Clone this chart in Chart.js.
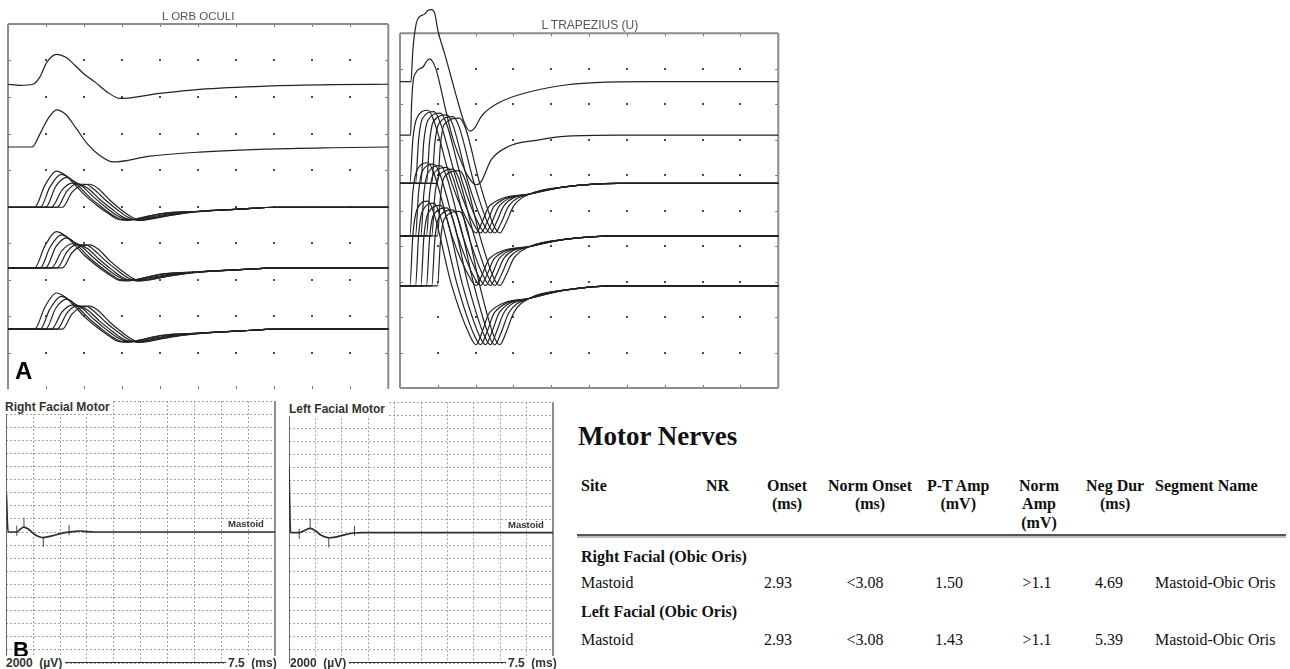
<!DOCTYPE html>
<html>
<head>
<meta charset="utf-8">
<script src="https://cdn.jsdelivr.net/npm/chart.js@4.4.1/dist/chart.umd.min.js"></script>
<style>
  body { margin: 0; background: #fff; width: 1290px; height: 669px; overflow: hidden; position: relative; font-family: "Liberation Sans", Arial, sans-serif; }
  canvas { position: absolute; }
  .txt { position: absolute; white-space: pre; color: #222; }
  .serif { font-family: "Liberation Serif", "Times New Roman", serif; color: #111; }
</style>
</head>
<body>
<canvas id="orbChart" width="394" height="392" style="left:0;top:0"></canvas>
<canvas id="trapChart" width="398" height="392" style="left:392px;top:0"></canvas>
<canvas id="rightFacialChart" width="282" height="274" style="left:0;top:395px"></canvas>
<canvas id="leftFacialChart" width="282" height="274" style="left:282px;top:395px"></canvas>
<div id="tableRule" style="position:absolute;left:577px;top:534px;width:709px;height:0;border-top:2px solid #555;border-bottom:2px solid #bbb"></div>

<script>
// ---------- A, left: L ORB OCULI  (x and y in screen divisions, amplitudes relative to each trace baseline)
const orbBaselines = [8.35, 6.63, 4.98, 3.32, 1.64];

const orbTrace1Time = [0, 0.31, 0.66, 0.84, 1.02, 1.28, 1.52, 1.76, 2.00, 2.30, 2.62, 2.94, 3.99, 5.04, 6.79, 8.53, 10];
const orbTrace1Amp  = [0, -0.03, 0, 0.20, 0.60, 0.82, 0.74, 0.52, 0.28, 0.05, -0.22, -0.39, -0.25, -0.14, -0.05, -0.01, 0];

const orbTrace2Time = [0, 0.63, 0.84, 1.05, 1.28, 1.52, 1.78, 2.10, 2.41, 2.76, 3.73, 5.04, 6.77, 8.53, 10];
const orbTrace2Amp  = [0, 0, 0.36, 0.77, 1.02, 0.89, 0.53, 0.07, -0.23, -0.41, -0.25, -0.14, -0.06, -0.02, 0];

// six superimposed responses, repeated on rows 3-5
const orbFamilyTimes = [
  [0, 0.70, 0.97, 1.27, 1.50, 1.75, 2.02, 2.34, 2.62, 2.89, 3.15, 3.46, 3.99, 5.04, 6.09, 7.06, 10],
  [0, 0.85, 1.10, 1.40, 1.63, 1.84, 2.15, 2.47, 2.76, 3.02, 3.28, 3.60, 4.12, 5.04, 6.09, 7.06, 10],
  [0, 0.99, 1.26, 1.55, 1.73, 1.94, 2.26, 2.57, 2.86, 3.12, 3.39, 3.73, 4.25, 5.04, 6.09, 7.06, 10],
  [0, 1.14, 1.42, 1.68, 1.89, 2.10, 2.41, 2.73, 2.99, 3.25, 3.52, 3.86, 4.38, 5.04, 6.09, 7.06, 10],
  [0, 1.29, 1.55, 1.78, 2.05, 2.26, 2.57, 2.89, 3.15, 3.41, 3.67, 3.99, 4.51, 5.04, 6.09, 7.06, 10],
  [0, 1.43, 1.68, 1.89, 2.15, 2.36, 2.68, 2.99, 3.25, 3.46, 3.73, 4.12, 4.65, 5.30, 6.09, 7.06, 10]
];
const orbFamilyAmps = [
  [0, 0, 0.60, 0.99, 0.88, 0.63, 0.33, 0.05, -0.16, -0.33, -0.36, -0.30, -0.18, -0.11, -0.05, 0, 0],
  [0, 0, 0.55, 0.90, 0.79, 0.60, 0.27, 0, -0.22, -0.34, -0.34, -0.27, -0.16, -0.11, -0.05, 0, 0],
  [0, 0, 0.58, 0.82, 0.71, 0.58, 0.27, 0, -0.22, -0.33, -0.33, -0.27, -0.18, -0.11, -0.05, 0, 0],
  [0, 0, 0.47, 0.66, 0.63, 0.52, 0.22, -0.05, -0.25, -0.34, -0.33, -0.27, -0.18, -0.11, -0.05, 0, 0],
  [0, 0, 0.44, 0.63, 0.63, 0.49, 0.19, -0.08, -0.27, -0.36, -0.33, -0.27, -0.18, -0.11, -0.05, 0, 0],
  [0, 0, 0.41, 0.58, 0.63, 0.52, 0.19, -0.08, -0.27, -0.36, -0.33, -0.25, -0.16, -0.10, -0.05, 0, 0]
];

// ---------- A, right: L TRAPEZIUS (U)
const trapBaselines = [8.64, 7.13, 5.77, 4.29, 2.88];

const trapTrace1Time = [0, 0.29, 0.34, 0.43, 0.52, 0.65, 0.74, 0.83, 0.92, 1.00, 1.19, 1.37, 1.53, 1.69, 1.85, 1.98, 2.15, 2.59, 3.46, 4.43, 5.15, 6.60, 10];
const trapTrace1Amp  = [0, 0, 0.89, 1.64, 1.83, 1.90, 2.01, 2.03, 1.92, 1.45, 0.75, 0.05, -0.57, -1.13, -1.40, -1.30, -0.98, -0.61, -0.28, -0.09, -0.03, 0, 0];

const trapTrace2Time = [0, 0.28, 0.30, 0.34, 0.43, 0.52, 0.61, 0.69, 0.78, 0.87, 0.96, 1.05, 1.21, 1.37, 1.58, 1.79, 2.01, 2.14, 2.41, 2.85, 3.64, 4.43, 5.80, 10];
const trapTrace2Amp  = [0, 0, 0.70, 1.45, 1.78, 1.87, 1.92, 2.06, 2.15, 2.06, 1.83, 1.45, 0.70, 0, -0.65, -1.15, -1.40, -1.32, -0.70, -0.33, -0.14, -0.03, 0, 0];

const trapFamilyTimes = [
  [0, 0.26, 0.34, 0.45, 0.74, 0.90, 1.37, 1.85, 2.01, 2.16, 2.37, 3.43, 4.35, 5.75, 10],
  [0, 0.41, 0.49, 0.59, 0.90, 1.06, 1.52, 1.97, 2.13, 2.29, 2.50, 3.43, 4.35, 5.75, 10],
  [0, 0.55, 0.63, 0.74, 1.07, 1.23, 1.66, 2.10, 2.26, 2.42, 2.63, 3.43, 4.35, 5.75, 10],
  [0, 0.70, 0.78, 0.88, 1.24, 1.40, 1.81, 2.23, 2.39, 2.54, 2.75, 3.43, 4.35, 5.75, 10],
  [0, 0.84, 0.92, 1.03, 1.40, 1.56, 1.96, 2.35, 2.51, 2.67, 2.88, 3.43, 4.35, 5.75, 10],
  [0, 0.99, 1.07, 1.17, 1.57, 1.73, 2.11, 2.48, 2.64, 2.80, 3.01, 3.43, 4.35, 5.75, 10]
];
// rows 3 and 4
const trapFamilyAmps = [
  [0, 0, 1.24, 1.85, 2.06, 1.75, 0, -1.19, -1.40, -1.12, -0.63, -0.30, -0.10, 0, 0],
  [0, 0, 1.21, 1.82, 2.02, 1.72, 0, -1.19, -1.40, -1.12, -0.63, -0.30, -0.10, 0, 0],
  [0, 0, 1.19, 1.78, 1.98, 1.68, 0, -1.19, -1.40, -1.12, -0.63, -0.30, -0.10, 0, 0],
  [0, 0, 1.16, 1.74, 1.93, 1.64, 0, -1.19, -1.40, -1.12, -0.63, -0.30, -0.10, 0, 0],
  [0, 0, 1.13, 1.69, 1.88, 1.60, 0, -1.19, -1.40, -1.12, -0.63, -0.30, -0.10, 0, 0],
  [0, 0, 1.10, 1.66, 1.84, 1.56, 0, -1.19, -1.40, -1.12, -0.63, -0.30, -0.10, 0, 0]
];
// row 5 (larger)
const trapFamily5Amps = [
  [0, 0, 1.43, 2.15, 2.39, 2.03, 0, -1.41, -1.66, -1.33, -0.75, -0.35, -0.12, 0, 0],
  [0, 0, 1.40, 2.10, 2.33, 1.98, 0, -1.41, -1.66, -1.33, -0.75, -0.35, -0.12, 0, 0],
  [0, 0, 1.36, 2.04, 2.27, 1.93, 0, -1.41, -1.66, -1.33, -0.75, -0.35, -0.12, 0, 0],
  [0, 0, 1.32, 1.98, 2.20, 1.87, 0, -1.41, -1.66, -1.33, -0.75, -0.35, -0.12, 0, 0],
  [0, 0, 1.28, 1.93, 2.14, 1.82, 0, -1.41, -1.66, -1.33, -0.75, -0.35, -0.12, 0, 0],
  [0, 0, 1.26, 1.89, 2.10, 1.79, 0, -1.41, -1.66, -1.33, -0.75, -0.35, -0.12, 0, 0]
];

// ---------- B: facial motor (ms, uV)
const rightFacialTime = [0, 0.045, 0.29, 0.38, 0.49, 0.60, 0.75, 0.88, 1.03, 1.27, 1.50, 1.68, 1.86, 2.06, 2.25, 2.47, 7.5];
const rightFacialAmp  = [5800, 0, 0, 400, 750, 500, -200, -650, -850, -600, -250, -50, 50, 150, 50, 0, 0];
const rightMarkerTime = [0.29, 0.49, 1.03, 1.75];
const rightMarkerAmp  = [200, 1400, -1500, 300];

const leftFacialTime = [0, 0.045, 0.29, 0.45, 0.60, 0.75, 0.90, 1.13, 1.35, 1.60, 1.86, 2.10, 7.5];
const leftFacialAmp  = [9800, 0, 0, 350, 650, 300, -350, -780, -650, -300, -50, 0, 0];
const leftMarkerTime = [0.29, 0.60, 1.13, 1.86];
const leftMarkerAmp  = [-200, 1400, -1500, 300];

// ---------- Motor Nerves table
const tableHeaders = ['Site', 'NR', 'Onset\n(ms)', 'Norm Onset\n(ms)', 'P-T Amp\n(mV)', 'Norm\nAmp\n(mV)', 'Neg Dur\n(ms)', 'Segment Name'];
const nerveNames = ['Right Facial (Obic Oris)', 'Left Facial (Obic Oris)'];
const siteNames = ['Mastoid', 'Mastoid'];
const onsetValues = ['2.93', '2.93'];
const normOnsetValues = ['<3.08', '<3.08'];
const ptAmpValues = ['1.50', '1.43'];
const normAmpValues = ['>1.1', '>1.1'];
const negDurValues = ['4.69', '5.39'];
const segmentNames = ['Mastoid-Obic Oris', 'Mastoid-Obic Oris'];

// dotted screen grid + frame for the two upper panels
const dotFrame = {
    id: 'dotFrame',
    beforeDatasetsDraw(chart, args, opts) {
        const { ctx, chartArea: a, scales: { x, y } } = chart;
        ctx.save();
        ctx.fillStyle = '#4a4a4a';
        for (let i = 1; i < 10; i++) {
            for (let j = 1; j < 10; j++) {
                ctx.fillRect(Math.round(x.getPixelForValue(i)) - 1, Math.round(y.getPixelForValue(j)) - 1, 2, 2);
            }
        }
        ctx.strokeStyle = '#777';
        ctx.lineWidth = 1;
        ctx.beginPath();
        for (let i = 1; i < 10; i++) {
            const px = Math.round(x.getPixelForValue(i)) + 0.5, py = Math.round(y.getPixelForValue(i)) + 0.5;
            ctx.moveTo(px, a.top); ctx.lineTo(px, a.top + 3);
            ctx.moveTo(px, a.bottom); ctx.lineTo(px, a.bottom - 3);
            ctx.moveTo(a.left, py); ctx.lineTo(a.left + 3, py);
            ctx.moveTo(a.right, py); ctx.lineTo(a.right - 3, py);
        }
        ctx.stroke();
        ctx.strokeStyle = '#8c8c8c';
        ctx.lineWidth = 2;
        ctx.beginPath();
        const s = opts.sides;
        if (s.includes('top')) { ctx.moveTo(a.left, a.top); ctx.lineTo(a.right, a.top); }
        if (s.includes('bottom')) { ctx.moveTo(a.left, a.bottom); ctx.lineTo(a.right, a.bottom); }
        if (s.includes('left')) { ctx.moveTo(a.left, a.top); ctx.lineTo(a.left, a.bottom); }
        if (s.includes('right')) { ctx.moveTo(a.right, a.top); ctx.lineTo(a.right, a.bottom); }
        ctx.stroke();
        ctx.restore();
    }
};

// solid edges of the facial motor screens
const facialFrame = {
    id: 'facialFrame',
    beforeDatasetsDraw(chart) {
        const { ctx, chartArea: a } = chart;
        ctx.save();
        ctx.strokeStyle = '#666';
        ctx.lineWidth = 1;
        ctx.beginPath();
        ctx.moveTo(Math.round(a.left) + 0.5, a.top); ctx.lineTo(Math.round(a.left) + 0.5, a.bottom);
        ctx.stroke();
        ctx.strokeStyle = '#333';
        ctx.beginPath();
        ctx.moveTo(a.left, Math.round(a.bottom) - 0.5); ctx.lineTo(a.right, Math.round(a.bottom) - 0.5);
        ctx.stroke();
        ctx.strokeStyle = '#8c8c8c';
        ctx.lineWidth = 2;
        ctx.beginPath();
        ctx.moveTo(a.right, a.top); ctx.lineTo(a.right, a.bottom);
        ctx.stroke();
        ctx.restore();
    }
};

const traceSet = (times, amps, base) => ({
    data: times.map((t, i) => ({ x: t, y: base + amps[i] })),
    borderColor: '#222',
    borderWidth: 1.2,
    pointRadius: 0,
    cubicInterpolationMode: 'monotone',
    clip: false
});

const makeWaveChart = (id, datasets, padding, sides) => new Chart(document.getElementById(id), {
    type: 'line',
    data: { datasets: datasets },
    options: {
        responsive: false,
        animation: false,
        layout: { padding: padding },
        scales: {
            x: { type: 'linear', min: 0, max: 10, display: false },
            y: { type: 'linear', min: 0, max: 10, display: false }
        },
        plugins: { legend: { display: false }, tooltip: { enabled: false }, dotFrame: { sides: sides } }
    },
    plugins: [dotFrame]
});

const orbSets = [
    traceSet(orbTrace1Time, orbTrace1Amp, orbBaselines[0]),
    traceSet(orbTrace2Time, orbTrace2Amp, orbBaselines[1])
];
orbBaselines.slice(2).forEach(b => {
    orbFamilyTimes.forEach((t, k) => orbSets.push(traceSet(t, orbFamilyAmps[k], b)));
});
makeWaveChart('orbChart', orbSets, { left: 8, right: 5.7, top: 24, bottom: 3 }, ['top', 'left', 'right']);

const trapSets = [
    traceSet(trapTrace1Time, trapTrace1Amp, trapBaselines[0]),
    traceSet(trapTrace2Time, trapTrace2Amp, trapBaselines[1])
];
[2, 3].forEach(r => {
    trapFamilyTimes.forEach((t, k) => trapSets.push(traceSet(t, trapFamilyAmps[k], trapBaselines[r])));
});
trapFamilyTimes.forEach((t, k) => trapSets.push(traceSet(t, trapFamily5Amps[k], trapBaselines[4])));
makeWaveChart('trapChart', trapSets, { left: 8, right: 11.7, top: 33.3, bottom: 4 }, ['top', 'bottom', 'left', 'right']);

const facialGrid = {
    color: '#a3a3a3',
    drawTicks: false
};

const makeFacialChart = (id, times, amps, markTimes, markAmps, padding) => new Chart(document.getElementById(id), {
    type: 'line',
    data: {
        datasets: [{
            data: times.map((t, i) => ({ x: t, y: amps[i] })),
            borderColor: '#2e2e2e',
            borderWidth: 1.7,
            pointRadius: 0,
            cubicInterpolationMode: 'monotone'
        }, {
            data: markTimes.map((t, i) => ({ x: t, y: markAmps[i] })),
            showLine: false,
            pointStyle: 'line',
            pointRotation: 90,
            pointRadius: 5,
            pointBorderColor: '#444',
            pointBorderWidth: 1
        }]
    },
    options: {
        responsive: false,
        animation: false,
        layout: { padding: padding },
        scales: {
            x: { type: 'linear', min: 0, max: 7.5, ticks: { display: false, stepSize: 0.75 }, grid: facialGrid, border: { display: false, dash: [2, 2] } },
            y: { type: 'linear', min: -20000, max: 20000, ticks: { display: false, stepSize: 2000 }, grid: facialGrid, border: { display: false, dash: [2, 2] } }
        },
        plugins: { legend: { display: false }, tooltip: { enabled: false } }
    },
    plugins: [facialFrame]
});

makeFacialChart('rightFacialChart', rightFacialTime, rightFacialAmp, rightMarkerTime, rightMarkerAmp, { left: 6.4, right: 7, top: 4, bottom: 4 });
makeFacialChart('leftFacialChart', leftFacialTime, leftFacialAmp, leftMarkerTime, leftMarkerAmp, { left: 7, right: 11, top: 7.3, bottom: 4 });

// text placed by its vertical centre
const putText = (text, x, cy, css, align, cls) => {
    const d = document.createElement('div');
    d.className = 'txt' + (cls ? ' ' + cls : '');
    d.textContent = text;
    Object.assign(d.style, css || {});
    document.body.appendChild(d);
    const w = d.offsetWidth, h = d.offsetHeight;
    d.style.top = (cy - h / 2) + 'px';
    d.style.left = (align === 'center' ? x - w / 2 : align === 'right' ? x - w : x) + 'px';
    return d;
};

putText('L ORB OCULI', 198, 15.5, { fontSize: '11.5px', color: '#555' }, 'center');
putText('L TRAPEZIUS (U)', 590, 24.5, { fontSize: '12px', color: '#555' }, 'center');
putText('A', 15, 371, { fontSize: '24px', fontWeight: 'bold', lineHeight: '24px', color: '#000' });
putText('B', 13, 650, { fontSize: '22px', fontWeight: 'bold', lineHeight: '22px', color: '#000' });

const whiteBox = { background: '#fff', fontWeight: 'bold', fontSize: '12px', lineHeight: '14px', color: '#333', paddingRight: '2px' };
putText('Right Facial Motor', 5, 407, whiteBox);
putText('Left Facial Motor', 289, 408.5, whiteBox);
putText('Mastoid', 246, 523, { fontSize: '9.5px', fontWeight: 'bold', color: '#333' }, 'center');
putText('Mastoid', 526, 524, { fontSize: '9.5px', fontWeight: 'bold', color: '#333' }, 'center');
putText('2000  (\u00b5V)', 6, 663, Object.assign({}, whiteBox, { paddingRight: '3px' }));
putText('2000  (\u00b5V)', 290, 663, Object.assign({}, whiteBox, { paddingRight: '3px' }));
putText('7.5  (ms)', 277, 663, Object.assign({}, whiteBox, { paddingLeft: '2px', paddingRight: '0' }), 'right');
putText('7.5  (ms)', 557, 663, Object.assign({}, whiteBox, { paddingLeft: '2px', paddingRight: '0' }), 'right');

// table
const headFont = { fontSize: '16px', fontWeight: 'bold', lineHeight: '18.5px', textAlign: 'center' };
const bodyFont = { fontSize: '16px', lineHeight: '18px' };
putText('Motor Nerves', 578, 436, { fontSize: '27px', fontWeight: 'bold' }, 'left', 'serif');

const headX = [581, 706, 787, 870, 958, 1039, 1115, 1155];
const headAlign = ['left', 'left', 'center', 'center', 'center', 'center', 'center', 'left'];
tableHeaders.forEach((h, i) => {
    const lines = h.split('\n').length;
    putText(h, headX[i], 486 + (lines - 1) * 18.5 / 2, headFont, headAlign[i], 'serif');
});

const rowY = [[557, 583], [612, 640]];
const valX = [778, 865, 949, 1037, 1109];
nerveNames.forEach((n, r) => {
    putText(n, 581, rowY[r][0], { fontSize: '16px', fontWeight: 'bold' }, 'left', 'serif');
    const y = rowY[r][1];
    putText(siteNames[r], 581, y, bodyFont, 'left', 'serif');
    [onsetValues, normOnsetValues, ptAmpValues, normAmpValues, negDurValues].forEach((col, c) => {
        putText(col[r], valX[c], y, bodyFont, 'center', 'serif');
    });
    putText(segmentNames[r], 1155, y, bodyFont, 'left', 'serif');
});
</script>
</body>
</html>
